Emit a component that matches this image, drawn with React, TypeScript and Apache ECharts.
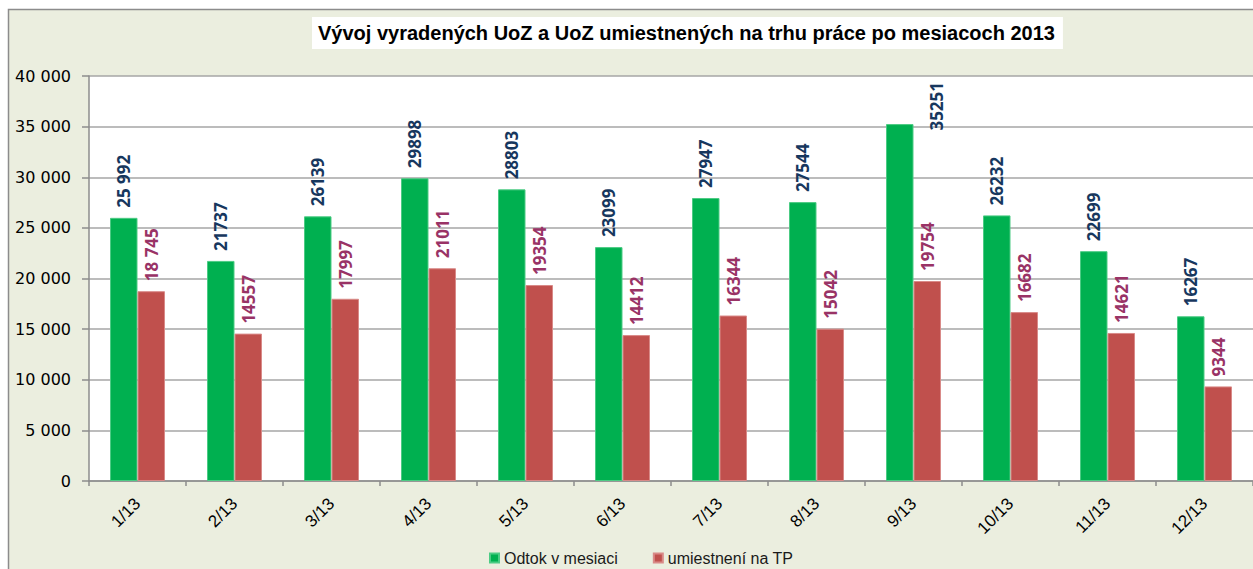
import React, { useEffect, useRef } from "react";
import * as echarts from "echarts";

const categories = ["1/13", "2/13", "3/13", "4/13", "5/13", "6/13", "7/13", "8/13", "9/13", "10/13", "11/13", "12/13"];
const odtok = [25992, 21737, 26139, 29898, 28803, 23099, 27947, 27544, 35251, 26232, 22699, 16267];
const umiestneni = [18745, 14557, 17997, 21011, 19354, 14412, 16344, 15042, 19754, 16682, 14621, 9344];
const seriesNames = ["Odtok v mesiaci", "umiestnení na TP"];
const titleText = "Vývoj vyradených UoZ a UoZ umiestnených na trhu práce po mesiacoch 2013";
const spacedLabelIdx = [0];

const fmtSpace = (v: number) => String(v).replace(/\B(?=(\d{3})+(?!\d))/g, " ");

export default function App() {
  const ref = useRef<HTMLDivElement>(null);
  useEffect(() => {
    if (!ref.current) return;
    const chart = echarts.init(ref.current, null, { renderer: "svg" });
    const labelBase = {
      show: true,
      position: "top",
      rotate: 90,
      align: "left",
      verticalAlign: "middle",
      distance: 10,
      fontFamily: "'Open Sans', 'Noto Sans', sans-serif",
      fontWeight: "bold",
      fontSize: 17,
      formatter: (p: any) => (spacedLabelIdx.includes(p.dataIndex) ? fmtSpace(p.value) : String(p.value)),
    };
    const maxIdx = odtok.indexOf(Math.max(...odtok));
    chart.setOption({
      animation: false,
      backgroundColor: "#ffffff",
      graphic: [
        {
          type: "rect",
          z: -10,
          silent: true,
          shape: { x: 8.5, y: 9.5, width: 1270, height: 580 },
          style: { fill: "#EBEEDF", stroke: "#8C8C8C", lineWidth: 1.5 },
        },
      ],
      title: {
        text: titleText,
        left: 312,
        top: 17,
        backgroundColor: "#ffffff",
        padding: [6, 8, 6, 6],
        textStyle: {
          fontFamily: "'Liberation Sans', Arial, sans-serif",
          fontWeight: "bold",
          fontSize: 20,
          lineHeight: 20,
          color: "#000000",
        },
      },
      legend: {
        left: 484,
        top: 545,
        itemWidth: 9,
        itemHeight: 9,
        itemGap: 35,
        icon: "rect",
        textStyle: {
          fontFamily: "'Liberation Sans', Arial, sans-serif",
          fontSize: 16,
          color: "#1a1a1a",
        },
        data: seriesNames,
      },
      grid: {
        left: 89,
        top: 76,
        width: 1167,
        height: 405,
        show: true,
        backgroundColor: "#ffffff",
        borderWidth: 0,
      },
      xAxis: {
        type: "category",
        data: categories,
        axisLine: { lineStyle: { color: "#8C8C8C", width: 1.5 } },
        axisTick: { show: true, length: 5, lineStyle: { color: "#8C8C8C", width: 1.5 } },
        axisLabel: {
          rotate: 45,
          margin: 20,
          fontFamily: "'Liberation Sans', Arial, sans-serif",
          fontSize: 17,
          color: "#000000",
        },
      },
      yAxis: {
        type: "value",
        min: 0,
        max: 40000,
        interval: 5000,
        axisLine: { show: true, lineStyle: { color: "#8C8C8C", width: 1.5 } },
        axisTick: { show: true, length: 7, lineStyle: { color: "#8C8C8C", width: 1.5 } },
        splitLine: { lineStyle: { color: "#A6A6A6", width: 1.5 } },
        axisLabel: {
          margin: 18,
          fontFamily: "'DejaVu Sans', sans-serif",
          fontSize: 16,
          color: "#000000",
          formatter: (v: number) => fmtSpace(v),
        },
      },
      series: [
        {
          name: seriesNames[0],
          type: "bar",
          barWidth: 27.5,
          barGap: "0%",
          itemStyle: { color: "#00B050", borderColor: "#4CCB84", borderWidth: 1 },
          label: { ...labelBase, color: "#17375E" },
          data: odtok.map((v, i) =>
            i === maxIdx ? { value: v, label: { offset: [-16.5, 37] } } : v
          ),
        },
        {
          name: seriesNames[1],
          type: "bar",
          barWidth: 27.5,
          barGap: "0%",
          itemStyle: { color: "#C0504D", borderColor: "#D98A88", borderWidth: 1 },
          label: { ...labelBase, color: "#993366" },
          data: umiestneni,
        },
      ],
    });
    return () => chart.dispose();
  }, []);
  return (
    <div
      ref={ref}
      style={{ position: "absolute", left: 0, top: 0, width: 1253, height: 569 }}
    />
  );
}
